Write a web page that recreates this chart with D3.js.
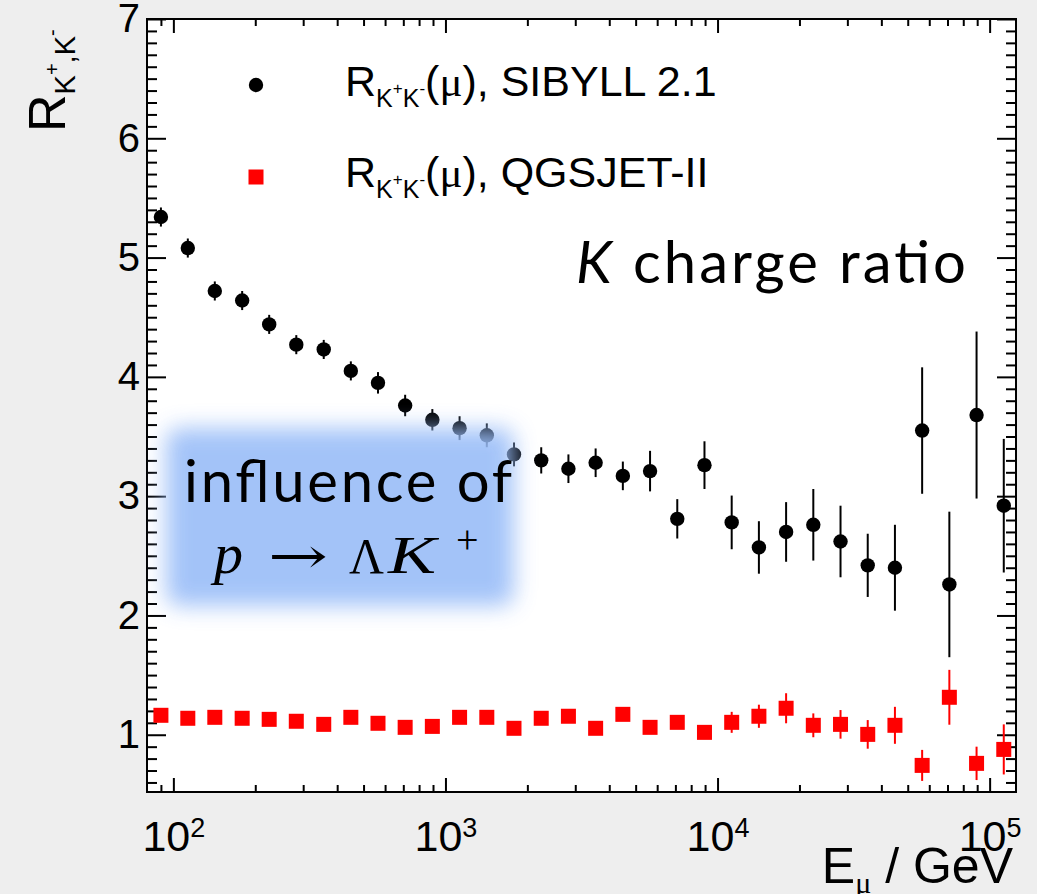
<!DOCTYPE html>
<html><head><meta charset="utf-8">
<script src="https://cdn.jsdelivr.net/npm/d3@7"></script>
<style>
html,body{margin:0;padding:0;background:#eeeeee;}
svg{display:block;}
</style></head><body>
<svg id="chart" width="1037" height="894"></svg>
<script>
// ---- data ----
const energies = [90, 113, 142, 179, 225, 283, 357, 449, 565, 711, 895, 1127, 1419, 1786, 2249, 2831, 3564, 4487, 5649, 7112, 8953, 11272, 14190, 17864, 22489, 28312, 35643, 44871, 56489, 71116, 89530, 112712];
const sibyll = [5.34, 5.08, 4.72, 4.64, 4.44, 4.27, 4.23, 4.05, 3.95, 3.76, 3.64, 3.57, 3.51, 3.35, 3.30, 3.23, 3.28, 3.17, 3.21, 2.81, 3.26, 2.78, 2.57, 2.70, 2.76, 2.62, 2.42, 2.40, 3.55, 2.26, 3.68, 2.92];
const sibyllErr = [0.08, 0.08, 0.08, 0.08, 0.08, 0.08, 0.08, 0.08, 0.09, 0.09, 0.09, 0.10, 0.10, 0.10, 0.11, 0.12, 0.12, 0.12, 0.17, 0.165, 0.20, 0.225, 0.22, 0.25, 0.30, 0.30, 0.265, 0.36, 0.53, 0.61, 0.70, 0.56];
const qgsjet = [1.163, 1.138, 1.146, 1.138, 1.129, 1.113, 1.087, 1.146, 1.096, 1.062, 1.070, 1.146, 1.146, 1.054, 1.138, 1.155, 1.054, 1.171, 1.062, 1.104, 1.020, 1.104, 1.155, 1.222, 1.079, 1.087, 1.003, 1.079, 0.743, 1.314, 0.760, 0.877];
const qgsjetErr = [0.03, 0.03, 0.03, 0.03, 0.03, 0.03, 0.03, 0.03, 0.03, 0.03, 0.03, 0.03, 0.03, 0.03, 0.03, 0.03, 0.03, 0.04, 0.03, 0.03, 0.03, 0.088, 0.097, 0.126, 0.10, 0.12, 0.12, 0.155, 0.13, 0.23, 0.14, 0.21];
const xMajorTicks = [1e2, 1e3, 1e4, 1e5];
const xTickExponents = ["2", "3", "4", "5"];
const yMajorTicks = [1, 2, 3, 4, 5, 6, 7];
const yTickLabels = ["1", "2", "3", "4", "5", "6", "7"];

// ---- layout ----
const W = 1037, H = 894;
const L = 147, R = 1016, T = 19, B = 792;
const SANS = "'Liberation Sans', Arial, Helvetica, sans-serif";
const SERIF = "'Liberation Serif', 'Times New Roman', serif";
const GEO = "Lato, 'Open Sans', sans-serif";

const svg = d3.select('#chart');
svg.append('rect').attr('width', W).attr('height', H).attr('fill', '#eeeeee');
svg.append('rect').attr('x', L).attr('y', T).attr('width', R - L).attr('height', B - T).attr('fill', '#ffffff');

const x = d3.scaleLog().domain([80, 125000]).range([L, R]);
const y = d3.scaleLinear().domain([0.52, 7.0]).range([B, T]);

const xMinor = [];
for (let e = 1; e <= 5; e++) for (let m = 2; m <= 9; m++) { const v = m * Math.pow(10, e); if (v > 80 && v < 125000) xMinor.push(v); }
const yMinor = d3.range(6, 70).map(v => v / 10).filter(v => v % 1 !== 0);

function styleAxis(g) {
  g.select('.domain').remove();
  g.selectAll('.tick line').attr('stroke', '#000').attr('stroke-width', 2);
}
// bottom
const gxB = svg.append('g').attr('transform', `translate(0,${B})`)
  .call(d3.axisBottom(x).tickValues(xMajorTicks).tickSize(-14).tickPadding(28).tickFormat(() => ''))
  .call(styleAxis);
gxB.selectAll('.tick text').each(function (d, i) {
  const t = d3.select(this);
  t.attr('font-family', SANS).attr('font-size', 43).attr('fill', '#000');
  t.append('tspan').text('10');
  t.append('tspan').attr('dy', '-0.5em').attr('font-size', 27).text(xTickExponents[i]);
});
svg.append('g').attr('transform', `translate(0,${B})`)
  .call(d3.axisBottom(x).tickValues(xMinor).tickSize(-7).tickFormat(() => '')).call(styleAxis);
// top
svg.append('g').attr('transform', `translate(0,${T})`)
  .call(d3.axisTop(x).tickValues(xMajorTicks).tickSize(-14).tickFormat(() => '')).call(styleAxis);
svg.append('g').attr('transform', `translate(0,${T})`)
  .call(d3.axisTop(x).tickValues(xMinor).tickSize(-7).tickFormat(() => '')).call(styleAxis);
// left
const gyL = svg.append('g').attr('transform', `translate(${L},0)`)
  .call(d3.axisLeft(y).tickValues(yMajorTicks).tickSize(-19).tickPadding(7).tickFormat((d, i) => yTickLabels[i]))
  .call(styleAxis);
gyL.selectAll('.tick text').attr('font-family', SANS).attr('font-size', 40).attr('fill', '#000');
svg.append('g').attr('transform', `translate(${L},0)`)
  .call(d3.axisLeft(y).tickValues(yMinor).tickSize(-10).tickFormat(() => '')).call(styleAxis);
// right
svg.append('g').attr('transform', `translate(${R},0)`)
  .call(d3.axisRight(y).tickValues(yMajorTicks).tickSize(-19).tickFormat(() => '')).call(styleAxis);
svg.append('g').attr('transform', `translate(${R},0)`)
  .call(d3.axisRight(y).tickValues(yMinor).tickSize(-10).tickFormat(() => '')).call(styleAxis);

// ---- data marks ----
const gData = svg.append('g');
energies.forEach((e, i) => {
  gData.append('line').attr('x1', x(e)).attr('x2', x(e))
    .attr('y1', y(qgsjet[i] - qgsjetErr[i])).attr('y2', y(qgsjet[i] + qgsjetErr[i]))
    .attr('stroke', '#ff0000').attr('stroke-width', 2);
  gData.append('line').attr('x1', x(e)).attr('x2', x(e))
    .attr('y1', y(sibyll[i] - sibyllErr[i])).attr('y2', y(sibyll[i] + sibyllErr[i]))
    .attr('stroke', '#000').attr('stroke-width', 2);
});
gData.selectAll('rect.q').data(energies).join('rect').attr('class', 'q')
  .attr('x', d => x(d) - 7.5).attr('y', (d, i) => y(qgsjet[i]) - 7.5)
  .attr('width', 15).attr('height', 15).attr('fill', '#ff0000');
gData.selectAll('circle.s').data(energies).join('circle').attr('class', 's')
  .attr('cx', d => x(d)).attr('cy', (d, i) => y(sibyll[i])).attr('r', 7.2).attr('fill', '#000');

// frame
svg.append('rect').attr('x', L).attr('y', T).attr('width', R - L).attr('height', B - T)
  .attr('fill', 'none').attr('stroke', '#000').attr('stroke-width', 2);

// ---- blue highlight box ----
const defs = svg.append('defs');
defs.append('filter').attr('id', 'blur').attr('x', '-30%').attr('y', '-30%').attr('width', '160%').attr('height', '160%')
  .append('feGaussianBlur').attr('stdDeviation', 11);
svg.append('rect').attr('x', 166).attr('y', 428).attr('width', 348).attr('height', 178).attr('rx', 14)
  .attr('fill', '#9abdf8').attr('opacity', 0.9).attr('filter', 'url(#blur)');
svg.append('text').attr('x', 184).attr('y', 502)
  .attr('font-family', GEO).attr('font-weight', 400).attr('font-size', 58).attr('fill', '#000')
  .attr('textLength', 328).attr('lengthAdjust', 'spacing').text('influence of');
// p → ΛK+
svg.append('text').attr('x', 214).attr('y', 573).attr('font-family', SERIF).attr('font-style', 'italic')
  .attr('font-size', 58).attr('fill', '#000').text('p');
svg.append('text').attr('x', 268).attr('y', 573).attr('font-family', "'DejaVu Serif', serif")
  .attr('font-size', 50).attr('fill', '#000').attr('textLength', 60).attr('lengthAdjust', 'spacingAndGlyphs').text('→');
svg.append('text').attr('x', 349).attr('y', 573).attr('font-family', SERIF)
  .attr('font-size', 50).attr('fill', '#000').attr('textLength', 35).attr('lengthAdjust', 'spacingAndGlyphs').text('Λ');
svg.append('text').attr('x', 388).attr('y', 573).attr('font-family', SERIF).attr('font-style', 'italic')
  .attr('font-size', 52).attr('fill', '#000').attr('textLength', 48).attr('lengthAdjust', 'spacingAndGlyphs').text('K');
svg.append('text').attr('x', 456).attr('y', 553).attr('font-family', SERIF)
  .attr('font-size', 40).attr('fill', '#000').text('+');

// ---- "K charge ratio" ----
const kc = svg.append('text').attr('x', 576).attr('y', 283)
  .attr('font-family', GEO).attr('font-weight', 400).attr('font-size', 58).attr('fill', '#000')
  .attr('textLength', 390).attr('lengthAdjust', 'spacing');
kc.append('tspan').attr('font-style', 'italic').text('K');
kc.append('tspan').text(' charge ratio');

// ---- legend ----
svg.append('circle').attr('cx', 256).attr('cy', 85).attr('r', 7.2).attr('fill', '#000');
svg.append('rect').attr('x', 248.5).attr('y', 169.5).attr('width', 15).attr('height', 15).attr('fill', '#ff0000');
function legendLabel(yb, model) {
  const t = svg.append('text').attr('x', 345).attr('y', yb).attr('font-family', SANS).attr('font-size', 43).attr('fill', '#000');
  t.append('tspan').text('R');
  t.append('tspan').attr('font-size', 25).attr('dy', 11).text('K');
  t.append('tspan').attr('font-size', 17).attr('dy', -13).text('+');
  t.append('tspan').attr('font-size', 25).attr('dy', 13).text('K');
  t.append('tspan').attr('font-size', 17).attr('dy', -13).text('-');
  t.append('tspan').attr('dy', 2).text('(');
  t.append('tspan').attr('font-family', SERIF).text('μ');
  t.append('tspan').text('), ' + model);
}
legendLabel(96, 'SIBYLL 2.1');
legendLabel(187, 'QGSJET-II');

// ---- axis titles ----
const yt = svg.append('text').attr('transform', 'translate(65,132) rotate(-90)')
  .attr('font-family', SANS).attr('font-size', 52).attr('fill', '#000');
yt.append('tspan').text('R');
yt.append('tspan').attr('font-size', 29).attr('dy', 10).text('K');
yt.append('tspan').attr('font-size', 20).attr('dy', -16).text('+');
yt.append('tspan').attr('font-size', 29).attr('dy', 16).text(',K');
yt.append('tspan').attr('font-size', 20).attr('dy', -16).text('-');

const xt = svg.append('text').attr('x', 1013).attr('y', 883).attr('text-anchor', 'end')
  .attr('font-family', SANS).attr('font-size', 50).attr('fill', '#000');
xt.append('tspan').text('E');
xt.append('tspan').attr('font-family', SERIF).attr('font-size', 30).attr('dy', 10).text('μ');
xt.append('tspan').attr('dy', -10).text(' / GeV');
</script>
</body></html>
